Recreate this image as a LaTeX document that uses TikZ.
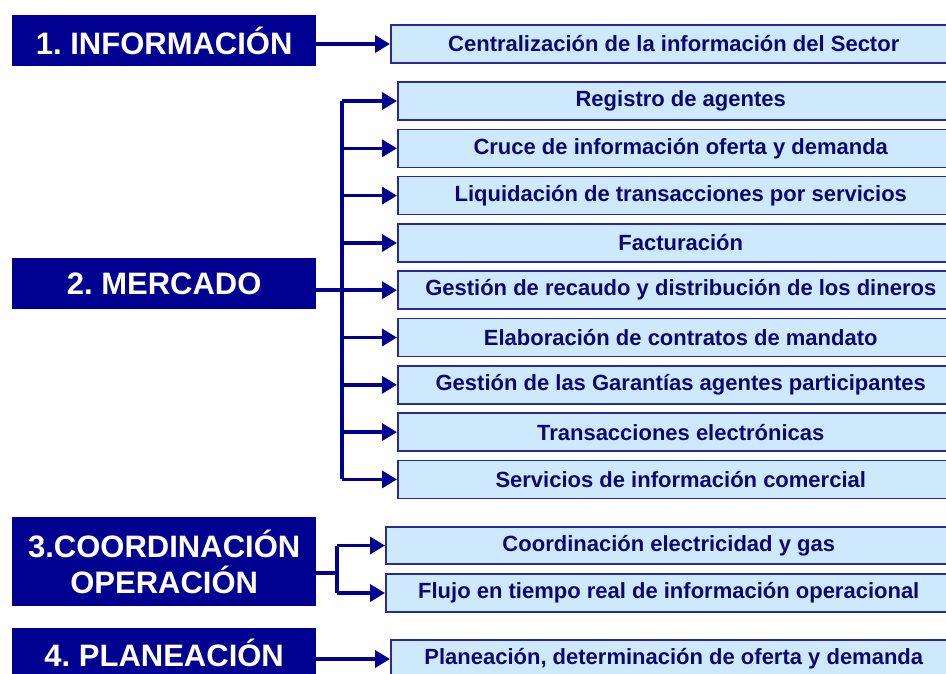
\documentclass[tikz,border=0pt]{standalone}
\usepackage{fontspec}
\setmainfont{Liberation Sans}
\usetikzlibrary{arrows.meta}

\definecolor{navy}{RGB}{0,0,145}
\definecolor{navytext}{RGB}{8,8,115}
\definecolor{celeste}{RGB}{206,232,252}
\definecolor{borde}{RGB}{40,40,160}

\begin{document}
\frenchspacing
\begin{tikzpicture}[x=1pt,y=-1pt,
    catbox/.style={fill=navy,text=white,font=\fontsize{31}{36}\selectfont\bfseries,
        inner sep=0pt,anchor=north west,minimum width=304pt,align=center},
    actbox/.style={fill=celeste,draw=borde,line width=1.5pt,text=navytext,
        font=\fontsize{22}{24}\selectfont\bfseries,minimum height=38pt,
        minimum width=566pt,inner sep=0pt,anchor=west},
    linea/.style={draw=navy,line width=3.5pt},
    flecha/.style={linea,-{Triangle[length=15pt,width=17pt]}}]
    \useasboundingbox[fill=white] (0,0) rectangle (946,673);

    % Left column
    \node[catbox,minimum height=51pt] (info) at (12,15) {1. INFORMACIÓN};
    \node[catbox,minimum height=51pt] (mercado) at (12,258) {2. MERCADO};
    \node[catbox,minimum height=89pt] (coord) at (12,517) {3.COORDINACIÓN\\OPERACIÓN};
    \node[catbox,minimum height=50pt] (plan) at (12,628) {4. PLANEACIÓN};

    % Right column
    \node[actbox] (centralizacion) at (390,44) {Centralización de la información del Sector};

    \node[actbox] (registro) at (397,101) {Registro de agentes};
    \node[actbox] (cruce) at (397,148.3) {Cruce de información oferta y demanda};
    \node[actbox] (liquidacion) at (397,195.6) {Liquidación de transacciones por servicios};
    \node[actbox] (facturacion) at (397,243) {Facturación};
    \node[actbox] (recaudo) at (397,290.2) {Gestión de recaudo y distribución de los dineros};
    \node[actbox] (contratos) at (397,337.5) {Elaboración de contratos de mandato};
    \node[actbox] (garantias) at (397,384.8) {Gestión de las Garantías agentes participantes};
    \node[actbox] (transacciones) at (397,432.1) {Transacciones electrónicas};
    \node[actbox] (servicios) at (397,479.4) {Servicios de información comercial};

    \node[actbox,minimum height=37pt] (coordinacion) at (385,545.5) {Coordinación electricidad y gas};
    \node[actbox] (flujo) at (385,593) {Flujo en tiempo real de información operacional};

    \node[actbox] (planeacion) at (390,659) {Planeación, determinación de oferta y demanda};

    % Connectors
    \draw[flecha] (info.east |- centralizacion) -- (centralizacion.west);

    \coordinate (tronco) at (342,290.2);
    \draw[linea] (tronco |- registro) -- (tronco |- servicios);
    \draw[flecha] (mercado.east |- recaudo) -- (recaudo.west);
    \draw[flecha] (tronco |- registro) -- (registro.west);
    \draw[flecha] (tronco |- cruce) -- (cruce.west);
    \draw[flecha] (tronco |- liquidacion) -- (liquidacion.west);
    \draw[flecha] (tronco |- facturacion) -- (facturacion.west);
    \draw[flecha] (tronco |- contratos) -- (contratos.west);
    \draw[flecha] (tronco |- garantias) -- (garantias.west);
    \draw[flecha] (tronco |- transacciones) -- (transacciones.west);
    \draw[flecha] (tronco |- servicios) -- (servicios.west);

    \coordinate (ramal) at (337,573);
    \draw[linea] (coord.east |- ramal) -- (ramal);
    \draw[linea] (ramal |- coordinacion) -- (ramal |- flujo);
    \draw[flecha] (ramal |- coordinacion) -- (coordinacion.west);
    \draw[flecha] (ramal |- flujo) -- (flujo.west);

    \draw[flecha] (plan.east |- planeacion) -- (planeacion.west);
\end{tikzpicture}
\end{document}
